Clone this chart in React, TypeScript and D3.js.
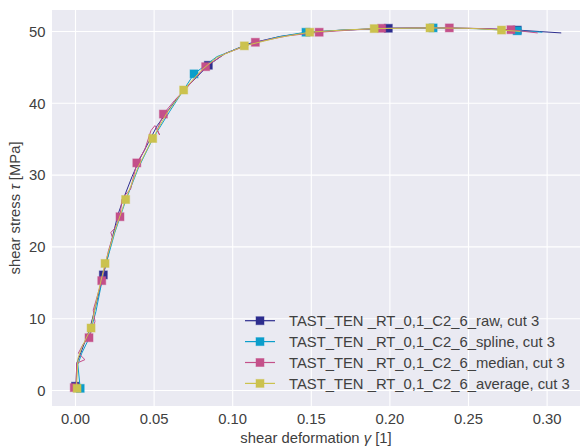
import React from 'react';
import * as d3 from 'd3';

// raw curve
const rawGamma = [0, 0.0003, 0.0008, 0.003, 0.006, 0.009, 0.0125, 0.0177, 0.022, 0.027, 0.031, 0.036, 0.041, 0.047, 0.052, 0.058, 0.065, 0.072, 0.0845, 0.095, 0.11, 0.13, 0.15, 0.17, 0.199, 0.23, 0.26, 0.281, 0.295, 0.309];
const rawTau = [0, 0.6, 3.8, 5.0, 6.8, 8.5, 11.5, 16.1, 20.0, 24.5, 27.0, 29.8, 32.3, 34.8, 36.9, 38.7, 40.8, 42.5, 45.3, 46.9, 48.3, 49.3, 49.9, 50.2, 50.45, 50.5, 50.4, 50.2, 50.0, 49.8];
const rawMarkGamma = [0, 0.0177, 0.0845, 0.199, 0.281];
const rawMarkTau = [0.6, 16.1, 45.3, 50.45, 50.2];

// spline curve
const splGamma = [0.003, 0.0015, 0.004, 0.008, 0.013, 0.018, 0.025, 0.032, 0.04, 0.049, 0.06, 0.0754, 0.09, 0.11, 0.13, 0.1466, 0.17, 0.2, 0.2275, 0.255, 0.281, 0.297];
const splTau = [0.3, 3.6, 5.2, 7.0, 11.0, 16.5, 22.0, 26.5, 31.0, 35.0, 38.9, 44.1, 46.5, 48.2, 49.3, 49.9, 50.2, 50.45, 50.5, 50.4, 50.1, 49.9];
const splMarkGamma = [0.003, 0.0754, 0.1466, 0.2275, 0.281];
const splMarkTau = [0.3, 44.1, 49.9, 50.5, 50.1];

// median curve
const medGamma = [-0.0008, 0.0003, 0.0008, 0.006, 0.0018, 0.005, 0.0086, 0.0124, 0.0113, 0.0167, 0.021, 0.0235, 0.0225, 0.025, 0.0283, 0.0295, 0.033, 0.035, 0.039, 0.044, 0.048, 0.0505, 0.0535, 0.052, 0.0559, 0.063, 0.07, 0.0828, 0.095, 0.1144, 0.135, 0.155, 0.175, 0.1948, 0.215, 0.2378, 0.26, 0.277, 0.286, 0.294];
const medTau = [0.4, 0.3, 3.8, 4.3, 5.2, 6.5, 7.35, 9.6, 11.2, 15.3, 19.5, 21.3, 22.0, 22.6, 24.2, 26.6, 27.6, 28.0, 31.7, 33.5, 36.2, 36.9, 35.6, 36.3, 38.5, 40.4, 42.0, 45.1, 46.9, 48.5, 49.4, 49.9, 50.2, 50.45, 50.5, 50.5, 50.4, 50.25, 50.0, 49.8];
const medMarkGamma = [-0.0008, 0.0086, 0.0167, 0.0283, 0.039, 0.0559, 0.0828, 0.1144, 0.155, 0.1948, 0.2378, 0.277];
const medMarkTau = [0.4, 7.35, 15.3, 24.2, 31.7, 38.5, 45.1, 48.5, 49.9, 50.45, 50.5, 50.25];

// average curve
const avgGamma = [0, 0.0005, 0.001, 0.0016, 0.004, 0.0099, 0.014, 0.0188, 0.025, 0.0319, 0.04, 0.0491, 0.058, 0.0688, 0.08, 0.09, 0.1074, 0.13, 0.149, 0.17, 0.19, 0.2255, 0.25, 0.271, 0.283];
const avgTau = [0, 0.3, 2.0, 4.5, 6.0, 8.7, 13.2, 17.7, 22.2, 26.6, 31.2, 35.1, 38.6, 41.85, 44.6, 46.4, 48.0, 49.2, 49.9, 50.2, 50.4, 50.5, 50.45, 50.2, 50.0];
const avgMarkGamma = [0.001, 0.0099, 0.0188, 0.0319, 0.0491, 0.0688, 0.1074, 0.149, 0.19, 0.2255, 0.271];
const avgMarkTau = [0.3, 8.7, 17.7, 26.6, 35.1, 41.85, 48.0, 49.9, 50.4, 50.5, 50.2];

const seriesNames = [
  'TAST_TEN _RT_0,1_C2_6_raw, cut 3',
  'TAST_TEN _RT_0,1_C2_6_spline, cut 3',
  'TAST_TEN _RT_0,1_C2_6_median, cut 3',
  'TAST_TEN _RT_0,1_C2_6_average, cut 3',
];
const colors = ['#2d2d8e', '#0c9ecb', '#c4508a', '#cbc24e'];

const xTicks = [0, 0.05, 0.1, 0.15, 0.2, 0.25, 0.3];
const yTicks = [0, 10, 20, 30, 40, 50];

const W = 581;
const H = 446;
const left = 52, right = 580, top = 10, bottom = 406;
const font = 'Liberation Sans, Arial, sans-serif';
const fs = 14.8;
const txt = '#404040';

export default function App() {
  const x = d3.scaleLinear().domain([0, 0.3]).range([75.5, 547.1]);
  const y = d3.scaleLinear().domain([0, 50]).range([390.5, 31.5]);

  const series = [
    { g: rawGamma, t: rawTau, mg: rawMarkGamma, mt: rawMarkTau },
    { g: splGamma, t: splTau, mg: splMarkGamma, mt: splMarkTau },
    { g: medGamma, t: medTau, mg: medMarkGamma, mt: medMarkTau },
    { g: avgGamma, t: avgTau, mg: avgMarkGamma, mt: avgMarkTau },
  ];

  const line = d3.line<number>()
    .x(d => d[0])
    .y(d => d[1]);

  const ms = 8;

  return (
    <svg width={W} height={H} style={{ position: 'absolute', left: 0, top: 0 }} fontFamily={font}>
      <rect x={0} y={0} width={W} height={H} fill="#fff" />
      <rect x={left} y={top} width={right - left} height={bottom - top} fill="#eaeaf2" />
      {xTicks.map(t => (
        <line key={'gx' + t} x1={x(t)} x2={x(t)} y1={top} y2={bottom} stroke="#fff" strokeWidth={1.1} />
      ))}
      {yTicks.map(t => (
        <line key={'gy' + t} x1={left} x2={right} y1={y(t)} y2={y(t)} stroke="#fff" strokeWidth={1.1} />
      ))}

      {series.map((s, i) => {
        const pts = s.g.map((g, j) => [x(g), y(s.t[j])] as any);
        return (
          <g key={i}>
            <path d={line(pts) || ''} fill="none" stroke={colors[i]} strokeWidth={1} strokeLinejoin="round" />
            {s.mg.map((g, j) => (
              <rect key={j} x={x(g) - ms / 2} y={y(s.mt[j]) - ms / 2} width={ms} height={ms}
                fill={colors[i]} stroke={colors[i]} strokeOpacity={0.45} strokeWidth={1} />
            ))}
          </g>
        );
      })}

      {xTicks.map(t => (
        <text key={'tx' + t} x={x(t)} y={424} textAnchor="middle" fontSize={fs} fill={txt}>
          {d3.format('.2f')(t)}
        </text>
      ))}
      {yTicks.map(t => (
        <text key={'ty' + t} x={45.5} y={y(t) + 5.3} textAnchor="end" fontSize={fs} fill={txt}>
          {t}
        </text>
      ))}

      <text x={(left + right) / 2} y={443} textAnchor="middle" fontSize={fs} fill={txt}>
        shear deformation <tspan fontStyle="italic">γ</tspan> [1]
      </text>
      <text transform={`translate(20,${(top + bottom) / 2}) rotate(-90)`} textAnchor="middle" fontSize={fs} fill={txt}>
        shear stress <tspan fontStyle="italic">τ</tspan> [MPa]
      </text>

      {seriesNames.map((n, i) => {
        const ly = 320.7 + i * 20.9;
        return (
          <g key={n}>
            <line x1={245} x2={275} y1={ly} y2={ly} stroke={colors[i]} strokeWidth={1.2} />
            <rect x={260 - ms / 2} y={ly - ms / 2} width={ms} height={ms} fill={colors[i]}
              stroke={colors[i]} strokeOpacity={0.45} strokeWidth={1} />
            <text x={289} y={ly + 5.3} fontSize={fs} fill={txt}>{n}</text>
          </g>
        );
      })}
    </svg>
  );
}
